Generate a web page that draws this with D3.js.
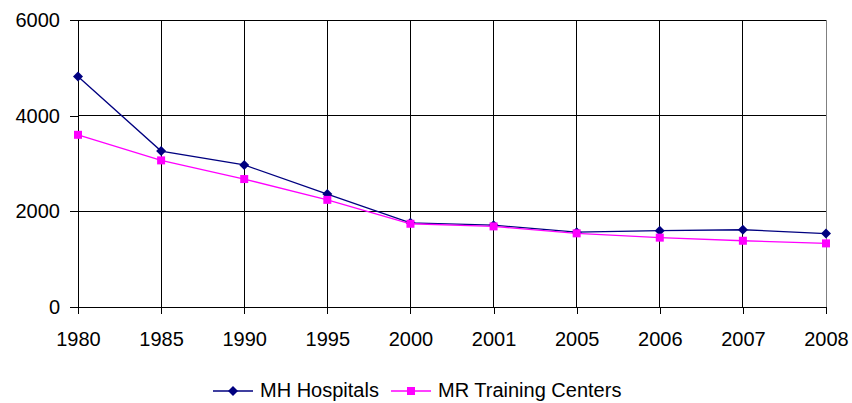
<!DOCTYPE html>
<html>
<head>
<meta charset="utf-8">
<script src="https://cdn.jsdelivr.net/npm/d3@7"></script>
<style>
  body { margin: 0; background: #fff; }
  text { font-family: "Liberation Sans", Arial, sans-serif; }
</style>
</head>
<body>
<script>
const width = 852;
const height = 403;

const years = ["1980", "1985", "1990", "1995", "2000", "2001", "2005", "2006", "2007", "2008"];
const mhHospitals = [4820, 3260, 2970, 2360, 1760, 1710, 1565, 1595, 1615, 1535];
const mrTraining = [3600, 3065, 2675, 2240, 1740, 1685, 1540, 1450, 1385, 1330];
const yTicks = [0, 2000, 4000, 6000];

const series = [
    { name: "MH Hospitals", values: mhHospitals, color: "#000080", marker: "diamond" },
    { name: "MR Training Centers", values: mrTraining, color: "#ff00ff", marker: "square" }
];

const margin = { left: 78, right: 26, top: 20, bottom: 96 };

const svg = d3.select("body").append("svg")
    .attr("width", width)
    .attr("height", height);

const x = d3.scalePoint()
    .domain(years)
    .range([margin.left, width - margin.right]);

const y = d3.scaleLinear()
    .domain([0, 6000])
    .range([height - margin.bottom, margin.top]);

// gridlines
svg.append("g")
    .selectAll("line")
    .data(yTicks)
    .join("line")
    .attr("x1", margin.left)
    .attr("x2", width - margin.right)
    .attr("y1", d => y(d))
    .attr("y2", d => y(d))
    .attr("stroke", "#000")
    .attr("shape-rendering", "crispEdges");

svg.append("g")
    .selectAll("line")
    .data(years)
    .join("line")
    .attr("x1", d => x(d))
    .attr("x2", d => x(d))
    .attr("y1", y(6000))
    .attr("y2", y(0))
    .attr("stroke", d => d === "2008" ? "#808080" : "#000")
    .attr("shape-rendering", "crispEdges");

// axes
const yAxis = svg.append("g")
    .attr("transform", `translate(${margin.left},0)`)
    .call(d3.axisLeft(y).tickValues(yTicks).tickSize(8).tickPadding(10).tickFormat(d3.format("d")));

const xAxis = svg.append("g")
    .attr("transform", `translate(0,${y(0)})`)
    .call(d3.axisBottom(x).tickSize(7).tickPadding(18));

[yAxis, xAxis].forEach(a => {
    a.select(".domain").remove();
    a.selectAll("line").attr("stroke", "#000").attr("shape-rendering", "crispEdges");
    a.selectAll("text").attr("font-size", 20).attr("fill", "#000")
        .style("font-family", "'Liberation Sans', Arial, sans-serif");
});
svg.append("line")
    .attr("x1", margin.left).attr("x2", margin.left)
    .attr("y1", y(6000)).attr("y2", y(0))
    .attr("stroke", "#000").attr("shape-rendering", "crispEdges");

const line = d3.line()
    .x((d, i) => x(years[i]))
    .y(d => y(d));

function drawMarker(g, type, color) {
    if (type === "diamond") {
        g.append("path").attr("d", "M0,-5L5,0L0,5L-5,0Z").attr("fill", color);
    } else {
        g.append("rect").attr("x", -4).attr("y", -4).attr("width", 8).attr("height", 8).attr("fill", color);
    }
}

series.forEach(s => {
    svg.append("path")
        .datum(s.values)
        .attr("fill", "none")
        .attr("stroke", s.color)
        .attr("stroke-width", 1.3)
        .attr("d", line);

    s.values.forEach((v, i) => {
        const g = svg.append("g").attr("transform", `translate(${x(years[i])},${y(v)})`);
        drawMarker(g, s.marker, s.color);
    });
});

// legend
const legendPos = [{ x: 213, w: 40 }, { x: 391, w: 40 }];
series.forEach((s, i) => {
    const lg = svg.append("g").attr("transform", `translate(${legendPos[i].x},391)`);
    lg.append("line")
        .attr("x1", 0).attr("x2", legendPos[i].w)
        .attr("stroke", s.color).attr("stroke-width", 1.3);
    drawMarker(lg.append("g").attr("transform", `translate(${legendPos[i].w / 2},0)`), s.marker, s.color);
    lg.append("text")
        .attr("x", legendPos[i].w + 7)
        .attr("y", 5.5)
        .attr("font-size", 20)
        .text(s.name);
});
</script>
</body>
</html>
